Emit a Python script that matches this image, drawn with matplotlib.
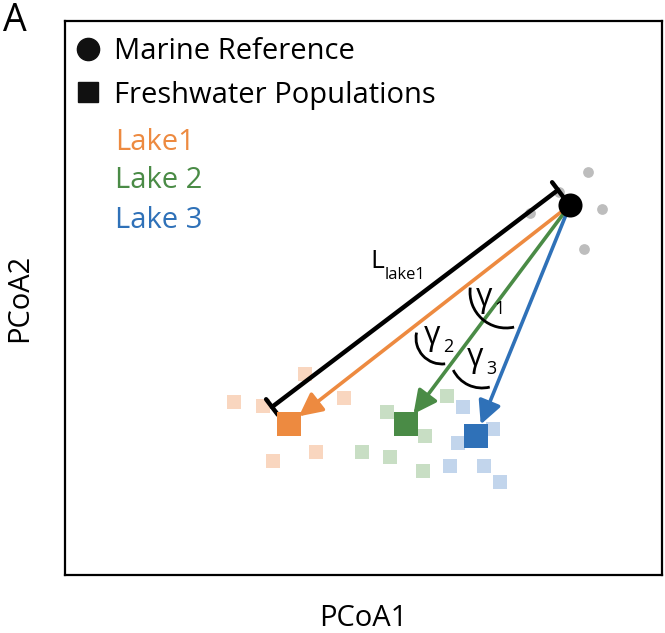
import matplotlib
matplotlib.use("Agg")
import matplotlib.pyplot as plt
from matplotlib.patches import Arc
from matplotlib.lines import Line2D

plt.rcParams['font.family'] = ['Open Sans', 'DejaVu Sans']

# positions in PCoA space (arbitrary units)
marine_ref = (505, 370)
marine_x = [523, 537, 519, 465, 494]
marine_y = [403, 366, 326, 362, 383]

lakes = ["Lake1", "Lake 2", "Lake 3"]
lake_colors = ['#ED8A40', '#4A8B46', '#2F71B8']
lake_light = ['#F9D6BF', '#C8DEC4', '#C2D5EC']
lake_cx = [224, 341, 411]
lake_cy = [151, 151, 139]

pop_x = [[169, 198, 240, 279, 251, 208],
         [322, 382, 360, 297, 325, 358],
         [398, 428, 393, 385, 419, 435]]
pop_y = [[173, 169, 201, 177, 123, 114],
         [163, 179, 139, 123, 118, 104],
         [168, 146, 132, 109, 109, 93]]

# length bar for lake 1 (offset from the orange arrow)
L_start = (493, 385)
L_end = (207, 168)

# angle arcs: centre x, centre y, diameter, theta1, theta2
arc_x = [441, 377, 417]
arc_y = [283, 237, 219]
arc_d = [72, 52, 64]
arc_t1 = [173, 168, 206]
arc_t2 = [283, 277, 284]
gamma_x = [419, 367, 410]
gamma_y = [277, 239, 217]

fig = plt.figure(figsize=(6.65, 6.33), dpi=100)
ax = fig.add_axes([65/665, 58/633, 597/665, 554/633])
ax.set_xlim(0, 597)
ax.set_ylim(0, 554)
ax.set_xticks([])
ax.set_yticks([])
for s in ax.spines.values():
    s.set_linewidth(1.6)

# background populations
for i in range(3):
    ax.scatter(pop_x[i], pop_y[i], marker='s', s=90, color=lake_light[i],
               linewidths=0, zorder=1)
ax.scatter(marine_x, marine_y, s=60, color='#BDBDBD', linewidths=0, zorder=1)

# L bar
ax.annotate('', xy=L_end, xytext=L_start,
            arrowprops=dict(arrowstyle='|-|,widthA=0.35,widthB=0.35',
                            lw=3.2, color='black', shrinkA=0, shrinkB=0,
                            mutation_scale=20), zorder=3)
ax.text(312, 313, 'L', fontsize=19, ha='center', va='center')
ax.text(320, 300, 'lake1', fontsize=12, ha='left', va='center')

# arrows from marine reference to lake centroids
for i in range(3):
    ax.annotate('', xy=(lake_cx[i], lake_cy[i]), xytext=marine_ref,
                arrowprops=dict(arrowstyle='-|>,head_length=0.7,head_width=0.35',
                                lw=2.6, color=lake_colors[i], shrinkA=0,
                                shrinkB=9, mutation_scale=20), zorder=4)
    ax.scatter([lake_cx[i]], [lake_cy[i]], marker='s', s=300,
               color=lake_colors[i], linewidths=0, zorder=5)

ax.scatter([marine_ref[0]], [marine_ref[1]], s=300, color='black',
           linewidths=0, zorder=6)

# angle arcs and gamma labels
for i in range(3):
    ax.add_patch(Arc((arc_x[i], arc_y[i]), arc_d[i], arc_d[i],
                     theta1=arc_t1[i], theta2=arc_t2[i], lw=2, color='black',
                     zorder=7))
    ax.text(gamma_x[i], gamma_y[i], 'γ', fontsize=23, ha='center', va='center',
            zorder=8)
    ax.text(gamma_x[i] + 16, gamma_y[i] - 11, str(i + 1), fontsize=13,
            ha='center', va='center', zorder=8)

# legend
handles = [Line2D([], [], marker='o', ls='', color='#111111', markersize=16),
           Line2D([], [], marker='s', ls='', color='#111111', markersize=15)]
leg = ax.legend(handles, ['Marine Reference', 'Freshwater Populations'],
                loc='upper left', bbox_to_anchor=(-0.02, 1.008), frameon=False,
                fontsize=21, handlelength=1.0, handletextpad=0.4,
                borderaxespad=0.3, labelspacing=0.5)
for i, name in enumerate(lakes):
    ax.text(50, 433 - i * 39, name, color=lake_colors[i], fontsize=21,
            ha='left', va='center')

ax.set_xlabel('PCoA1', fontsize=21, labelpad=21)
ax.set_ylabel('PCoA2', fontsize=21, labelpad=22)
fig.text(3/665, 1 - 21/633, 'A', fontsize=27, ha='left', va='center')

fig.savefig('out.png', dpi=100)
